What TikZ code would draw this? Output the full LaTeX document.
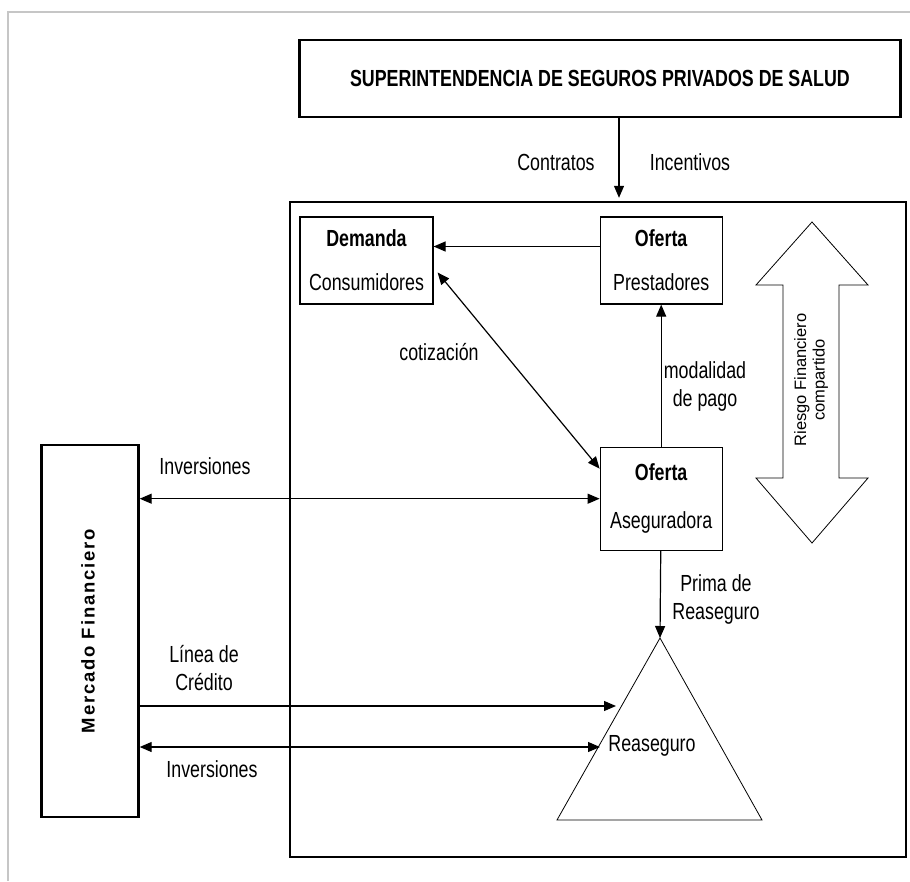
\documentclass[tikz,border=0pt]{standalone}
\usepackage{fontspec}
\setmainfont{Liberation Sans}
\newfontfamily\narrowfont[FakeStretch=0.765]{Liberation Sans}
\usetikzlibrary{positioning,arrows.meta}

\begin{document}
\begin{tikzpicture}[x=1pt, y=-1pt, >={Triangle[length=12pt,width=10pt]},
  every node/.style={font=\narrowfont\fontsize{23.3}{28}\selectfont, align=center},
  frame/.style={draw, line width=2.4pt},
  agent/.style={draw, line width=1.2pt},
  flow/.style={line width=1.2pt},
  outline/.style={draw, line width=0.8pt}]
\useasboundingbox (0,0) rectangle (910,881);
\draw[gray!45, line width=1.2pt] (8,881) -- (8,12) -- (910,12);

% marco general
\node[frame, minimum width=601pt, minimum height=77pt] (sup) at (600,78.5) {\textbf{SUPERINTENDENCIA DE SEGUROS PRIVADOS DE SALUD}};
\node[frame, minimum width=616pt, minimum height=655pt] (sistema) at (598,529.5) {};
\node[frame, minimum width=97pt, minimum height=372pt] (mercado) at (90,631) {};
\node[rotate=90, font=\normalfont\fontsize{18.5}{20}\selectfont\bfseries\addfontfeatures{LetterSpace=10}] (mercadotxt) at (88,631) {Mercado Financiero};

% agentes
\node[agent, minimum width=133pt, minimum height=87pt] (demanda) at (366.5,260.5) {\textbf{Demanda}\\[16pt]Consumidores};
\node[agent, minimum width=122pt, minimum height=87pt] (prestadores) [right=166pt of demanda] {\textbf{Oferta}\\[16pt]Prestadores};
\node[agent, minimum width=122pt, minimum height=103pt] (aseguradora) [below=142pt of prestadores] {\textbf{Oferta}\\[20pt]Aseguradora};

\coordinate (apex) at (660,638);
\draw[outline] (apex) -- (762,820) -- (557,820) -- cycle;
\node (reaseguro) at (652,746) {Reaseguro};

\draw[outline] (812,222) -- (868,285) -- (839,285) -- (839,478) -- (868,478) -- (812,543)
  -- (756,478) -- (783,478) -- (783,285) -- (756,285) -- cycle;
\node[rotate=90, font=\normalfont\fontsize{16.5}{18.5}\selectfont] (riesgo) at (811,380) {Riesgo Financiero\\compartido};

% etiquetas
\node (contratos) at (556,162) {Contratos};
\node (incentivos) at (690,162) {Incentivos};
\node (cotizacion) at (439,352) {cotización};
\node (modalidad) at (705,386) {modalidad\\de pago};
\node (inv1) at (205,466) {Inversiones};
\node (prima) at (716,599) {Prima de\\Reaseguro};
\node (linea) at (204,668) {Línea de\\Crédito};
\node (inv2) at (212,769) {Inversiones};

% flujos
\coordinate (credito) at (616,706);
\coordinate (retorno) at (600,747);
\draw[flow,->, shorten >=3pt] ([xshift=19pt]sup.south) -- ([xshift=19pt]sup.south |- sistema.north);
\draw[flow,->] ([yshift=14pt]prestadores.west) -- ([yshift=14pt]prestadores.west -| demanda.east);
\draw[flow,<->] ([xshift=4pt,yshift=-12pt]demanda.east) -- ([yshift=30pt]aseguradora.west);
\draw[flow,->] (aseguradora) -- (prestadores);
\draw[flow,<->] (aseguradora.west) -- (aseguradora.west -| mercado.east);
\draw[flow,->] (aseguradora) -- (apex);
\draw[flow,->] (mercado.east |- credito) -- (credito);
\draw[flow,<->] (retorno) -- (retorno -| mercado.east);
\end{tikzpicture}
\end{document}
